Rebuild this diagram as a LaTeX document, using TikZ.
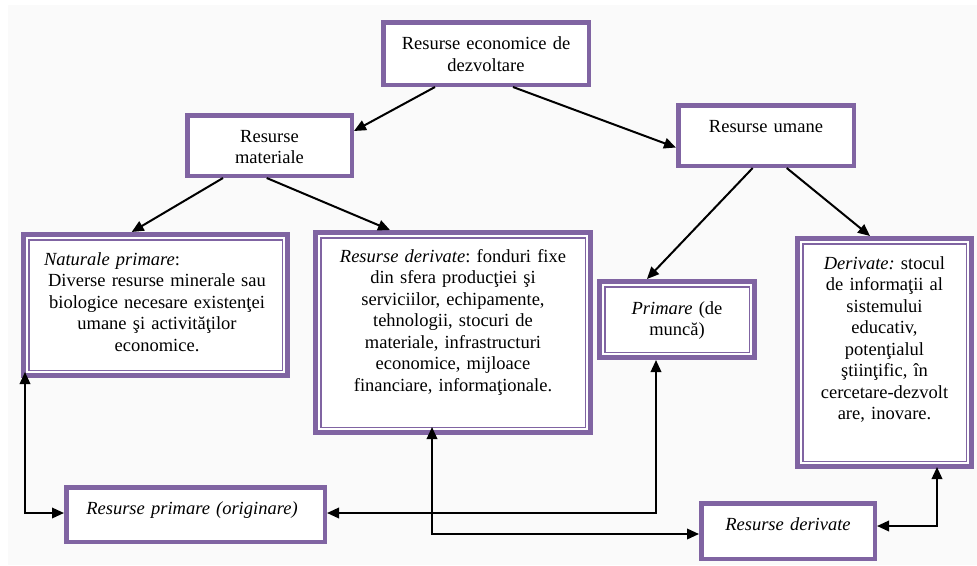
\documentclass[tikz,border=0pt]{standalone}
\usepackage{fontspec}
\setmainfont{Liberation Serif}
\usepackage{tikz}
\usetikzlibrary{arrows.meta,positioning,calc}
\definecolor{purp}{RGB}{128,100,162}
\definecolor{bggray}{RGB}{250,250,250}
\tikzset{box/.style={draw=purp,line width=4.5pt,fill=white,inner sep=0pt},
dbox/.style={draw=purp,line width=5pt,fill=white,inner sep=0pt},
txt/.style={font=\fontsize{18.5}{21.5}\selectfont\frenchspacing,align=center,inner sep=0pt,anchor=base}}
\tikzstyle{arrow}   = [line width=2pt,-{Triangle[length=12pt,width=10.5pt]}]
\tikzstyle{biarrow} = [line width=2pt,{Triangle[length=12pt,width=10.5pt]}-{Triangle[length=12pt,width=10.5pt]}]

\begin{document}
\begin{tikzpicture}[x=1pt,y=-1pt]
	\useasboundingbox (0,0) rectangle (977,565);
	\fill[bggray] (8,5) rectangle (977,565);

	\node[box,minimum width=205.5pt,minimum height=62.5pt] (top) at (486,53.5) {};
	\node[box,minimum width=164.5pt,minimum height=60.5pt] (mat) at (269.5,145.5) {};
	\node[box,minimum width=175.5pt,minimum height=60.5pt] (uman) at (766,135.5) {};
	\node[dbox,minimum width=264pt,minimum height=141pt] (nat) at (155.5,305) {};
	\node[dbox,minimum width=275pt,minimum height=200pt] (der) at (453,332.5) {};
	\node[dbox,minimum width=155pt,minimum height=76pt] (prim) at (677,319.5) {};
	\node[dbox,minimum width=174pt,minimum height=228pt] (deru) at (884.5,352.5) {};
	\node[box,minimum width=258.5pt,minimum height=54.5pt] (orig) at (195.5,514.5) {};
	\node[box,minimum width=173.5pt,minimum height=55.5pt] (drb) at (788,531) {};

	\foreach \n in {nat,der,prim,deru}
		\draw[purp,line width=1.5pt] ([shift={(7.75pt,-7.75pt)}]\n.north west) rectangle ([shift={(-7.75pt,7.75pt)}]\n.south east);

	\node[txt,text width=200pt] (top-t) at (486,49) {Resurse economice de\\[1pt]dezvoltare};
	\node[txt,text width=160pt] (mat-t) at (269.5,142) {Resurse\\materiale};
	\node[txt,text width=170pt] (uman-t) at (766,132) {Resurse umane};
	\node[txt,text width=226pt] (nat-t) at (157,265) {\makebox[\linewidth][l]{\textit{Naturale primare}:}\\Diverse resurse minerale sau\\biologice necesare existenţei\\umane şi activităţilor\\economice.};
	\node[txt,text width=265pt] (der-t) at (453,262) {\textit{Resurse derivate}: fonduri fixe\\din sfera producţiei şi\\serviciilor, echipamente,\\tehnologii, stocuri de\\materiale, infrastructuri\\economice, mijloace\\financiare, informaţionale.};
	\node[txt,text width=150pt] (prim-t) at (677,314) {\textit{Primare} (de\\muncă)};
	\node[txt,text width=165pt] (deru-t) at (884.5,269) {\textit{Derivate:} stocul\\de informaţii al\\sistemului\\educativ,\\potenţialul\\ştiinţific, în\\cercetare-dezvolt\\are, inovare.};
	\node[txt,text width=250pt] (orig-t) at (192,514) {\textit{Resurse primare (originare)}};
	\node[txt,text width=170pt] (drb-t) at (788,530) {\textit{Resurse derivate}};

	\draw[arrow] ([xshift=-51pt]top.south) -- ([yshift=14.5pt]mat.east);
	\draw[arrow] ([xshift=27pt]top.south) -- ([yshift=-12pt]uman.west);
	\draw[arrow] ([xshift=-46.5pt]mat.south) -- ([xshift=-23.8pt]nat.north);
	\draw[arrow] ([xshift=-2.8pt]mat.south) -- ([xshift=-63pt]der.north);
	\draw[arrow] ([xshift=-13.3pt]uman.south) -- ([xshift=-30pt]prim.north);
	\draw[arrow] ([xshift=20.7pt]uman.south) -- ([xshift=-14.5pt]deru.north);
	\draw[biarrow] ([shift={(4pt,6pt)}]nat.south west) |- ([yshift=1.5pt]orig.west);
	\draw[biarrow] ([xshift=-21pt]prim.south) |- ([yshift=1.5pt]orig.east);
	\draw[biarrow] ([shift={(-21pt,8pt)}]der.south) |- ([yshift=-3pt]drb.west);
	\draw[biarrow] ([yshift=5pt]drb.east) -| ([shift={(52.5pt,2pt)}]deru.south);
\end{tikzpicture}
\end{document}
